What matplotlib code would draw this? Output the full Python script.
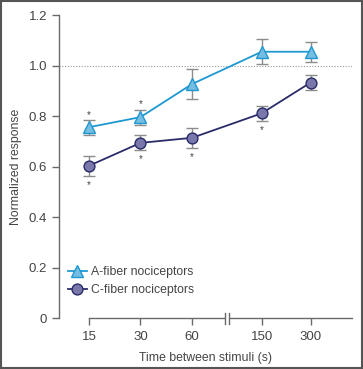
import matplotlib.pyplot as plt
from matplotlib.patches import Rectangle

plt.rcParams["font.family"] = ["Liberation Sans", "DejaVu Sans"]

# categorical positions on the broken axis
xlabels = ["15", "30", "60", "150", "300"]
xpos = [0, 1, 2, 3.35, 4.3]

a_mean = [0.756, 0.796, 0.927, 1.055, 1.055]
a_err = [0.03, 0.03, 0.06, 0.05, 0.04]
c_mean = [0.603, 0.694, 0.714, 0.811, 0.933]
c_err = [0.04, 0.03, 0.04, 0.03, 0.03]

# significance marks (indices)
a_star = [0, 1]
c_star = [0, 1, 2, 3]

fig = plt.figure(figsize=(3.63, 3.69), dpi=100)
ax = fig.add_axes([0.1625, 0.138, 0.807, 0.821])

ax.axhline(1.0, color="#9a9a9a", lw=0.8, ls=(0, (1, 1.5)), zorder=1)

ax.errorbar(xpos, a_mean, yerr=a_err, fmt="none", ecolor="#8c8c8c",
            elinewidth=1.0, capsize=4, capthick=1.0, zorder=2)
ax.errorbar(xpos, c_mean, yerr=c_err, fmt="none", ecolor="#8c8c8c",
            elinewidth=1.0, capsize=4, capthick=1.0, zorder=2)

ax.plot(xpos, a_mean, color="#1e98d2", lw=1.3, marker="^", ms=8.5,
        mfc="#76bde2", mec="#1e98d2", mew=1.0, zorder=3,
        label="A-fiber nociceptors")
ax.plot(xpos, c_mean, color="#2a2c6a", lw=1.3, marker="o", ms=7.8,
        mfc="#7a78aa", mec="#2a2c6a", mew=1.0, zorder=3,
        label="C-fiber nociceptors")

for i in a_star:
    ax.text(xpos[i], a_mean[i] + a_err[i] + 0.02, "*", ha="center",
            va="center", fontsize=7, color="#444444")
for i in c_star:
    ax.text(xpos[i], c_mean[i] - c_err[i] - 0.035, "*", ha="center",
            va="center", fontsize=7, color="#444444")

ax.set_xlim(-0.58, 5.1)
ax.set_ylim(0, 1.2)
ax.set_xticks(xpos)
ax.set_xticklabels(xlabels)
ax.set_yticks([0, 0.2, 0.4, 0.6, 0.8, 1.0, 1.2])
ax.set_yticklabels(["0", "0.2", "0.4", "0.6", "0.8", "1.0", "1.2"])

for s in ["top", "right"]:
    ax.spines[s].set_visible(False)
for s in ["left", "bottom"]:
    ax.spines[s].set_color("#6a6a6a")
    ax.spines[s].set_linewidth(1.0)
ax.spines["bottom"].set_bounds(0, 5.1)
ax.tick_params(colors="#6a6a6a", labelcolor="#444444", labelsize=9.5,
               length=5, width=1.0)
ax.tick_params(axis="x", pad=4)

# axis break between 60 and 150
bx0, bx1 = 2.63, 2.71
ax.add_patch(Rectangle((bx0, -0.02), bx1 - bx0, 0.04, transform=ax.transData,
                       facecolor="white", edgecolor="none", clip_on=False,
                       zorder=5))
for bx in (bx0, bx1):
    ax.plot([bx, bx], [-0.022, 0.022], color="#6a6a6a", lw=1.0,
            clip_on=False, zorder=6)

ax.set_ylabel("Normalized response", fontsize=8.8, color="#444444",
              labelpad=5)
ax.set_xlabel("Time between stimuli (s)", fontsize=8.8, color="#444444",
              labelpad=7)

leg = ax.legend(loc="lower left", bbox_to_anchor=(0.0, 0.045), frameon=False,
                fontsize=8.8, handlelength=1.6, handletextpad=0.3,
                labelspacing=0.45, borderaxespad=0.3)
for t in leg.get_texts():
    t.set_color("#444444")

fig.patches.append(Rectangle((0.002, 0.002), 0.996, 0.996,
                             transform=fig.transFigure, fill=False,
                             edgecolor="#555555", lw=1.5))

fig.savefig("out.png", dpi=100, facecolor="white")
